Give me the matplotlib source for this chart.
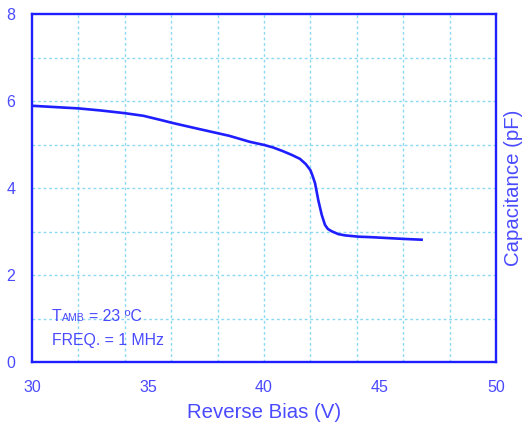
import matplotlib
matplotlib.use("Agg")
import matplotlib.pyplot as plt

plt.rcParams['font.family'] = ['Liberation Sans', 'DejaVu Sans']

# Data
bias_v = [30.0, 31.0, 32.0, 33.0, 34.0, 34.8, 35.5, 36.1, 37.0, 38.0, 38.5,
          39.4, 40.0, 40.4, 40.8, 41.2, 41.55, 41.8, 42.0, 42.1, 42.2, 42.34,
          42.49, 42.63, 42.75, 42.9, 43.2, 43.5, 44.1, 44.6, 45.3, 46.0, 46.85]
cap_pf = [5.89, 5.86, 5.83, 5.78, 5.72, 5.66, 5.57, 5.49, 5.38, 5.26, 5.20,
          5.06, 4.99, 4.93, 4.85, 4.76, 4.67, 4.55, 4.41, 4.27, 4.11, 3.72,
          3.38, 3.15, 3.06, 3.01, 2.94, 2.91, 2.88, 2.87, 2.85, 2.83, 2.81]

x_ticks = [30, 35, 40, 45, 50]
y_ticks = [0, 2, 4, 6, 8]
x_grid = [32, 34, 36, 38, 40, 42, 44, 46, 48]
y_grid = [1, 2, 3, 4, 5, 6, 7]

BLUE = '#1e1eff'
LBLUE = '#4a4aff'
GRID = '#8cd9f2'

W, H = 524, 424
fig = plt.figure(figsize=(W / 100, H / 100), dpi=100)
ax = fig.add_axes([32 / W, (H - 362) / H, 464 / W, 348 / H])

ax.set_xlim(30, 50)
ax.set_ylim(0, 8)

for xv in x_grid:
    ax.axvline(xv, color=GRID, lw=1.0, ls=(0, (2, 2)), zorder=1)
for yv in y_grid:
    ax.axhline(yv, color=GRID, lw=1.0, ls=(0, (2, 2)), zorder=1)

ax.plot(bias_v, cap_pf, color=BLUE, lw=1.9, zorder=3,
        solid_joinstyle='round', solid_capstyle='butt')

ax.set_xticks(x_ticks)
ax.set_yticks(y_ticks)
ax.tick_params(axis='both', length=0, labelsize=11.5, labelcolor=LBLUE)
ax.tick_params(axis='x', pad=13)
ax.tick_params(axis='y', pad=12)

for s in ax.spines.values():
    s.set_color(BLUE)
    s.set_linewidth(1.7)

ax.set_xlabel('Reverse Bias (V)', fontsize=14.7, color=LBLUE, labelpad=6)
ax.yaxis.set_label_position('right')
ax.set_ylabel('Capacitance (pF)', fontsize=14.7, color=LBLUE, labelpad=6)

# Annotation
def ftext(px, py, s, size):
    fig.text(px / W, 1 - py / H, s, fontsize=size, color=LBLUE, va='baseline', ha='left')

ftext(52, 321, 'T', 11.4)
ftext(62, 321, 'AMB', 7.6)
ftext(89, 321, '= 23 \u00baC', 11.4)
ftext(52, 345, 'FREQ. = 1 MHz', 11.4)

fig.savefig('out.png', dpi=100)
